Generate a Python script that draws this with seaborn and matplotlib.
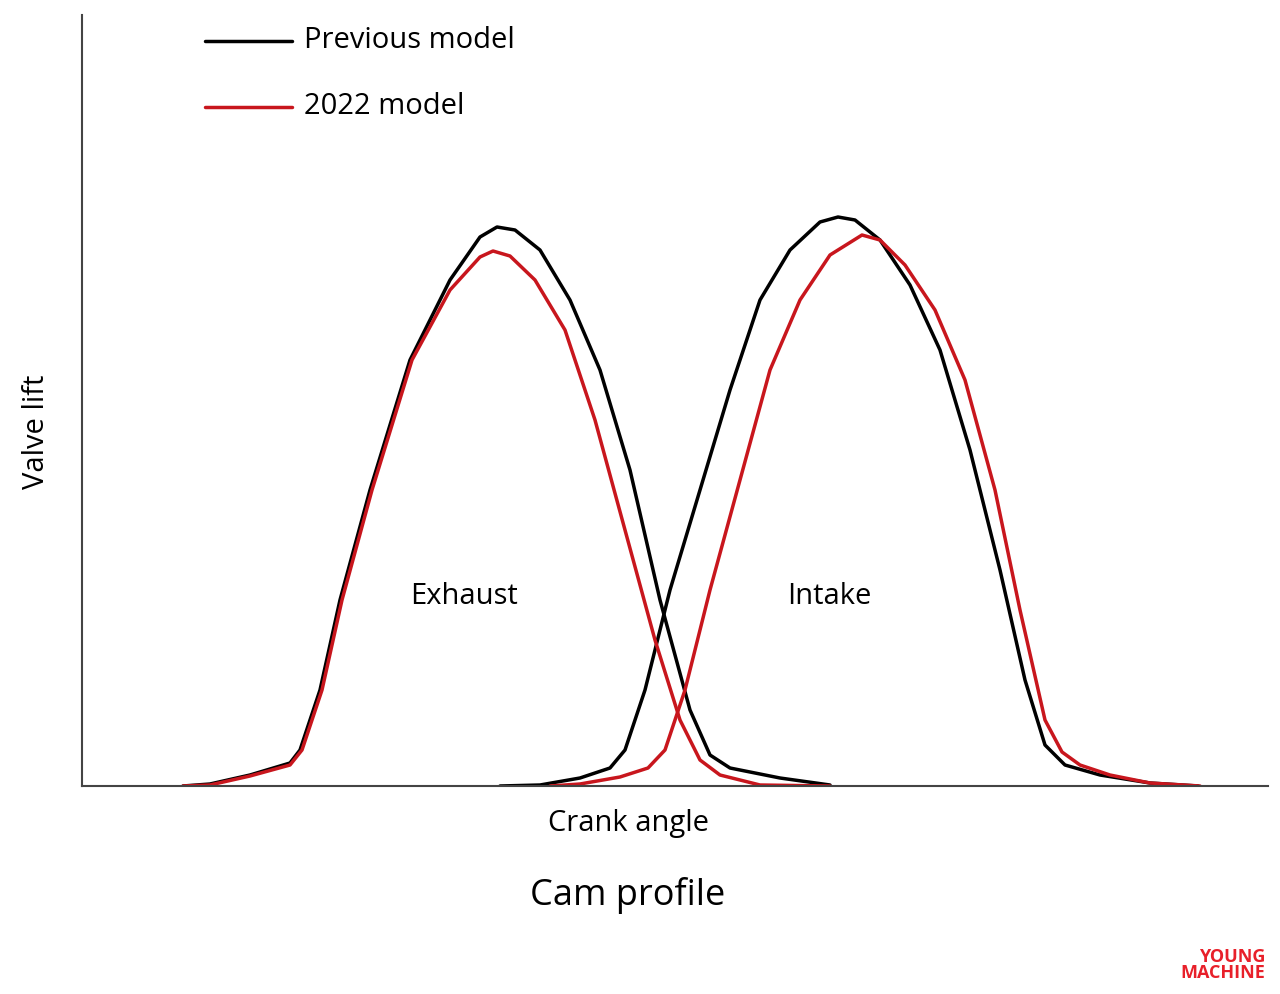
import matplotlib
matplotlib.use("Agg")
import matplotlib.pyplot as plt
import seaborn as sns
import pandas as pd

ex_prev_x = [183,210,250,290,300,320,340,370,410,450,480,497,515,540,570,600,630,660,690,710,730,780,830]
ex_prev_y = [786,784,775,763,750,690,600,490,360,280,237,227,230,250,300,370,470,600,710,755,768,778,785]
ex_new_x = [183,210,250,290,302,322,342,372,412,450,480,493,510,535,565,595,625,655,680,700,720,760,830]
ex_new_y = [786,785,776,765,750,690,600,490,360,290,257,251,256,280,330,420,530,640,720,760,775,785,786]
in_prev_x = [500,540,580,610,625,645,670,700,730,760,790,820,838,855,880,910,940,970,1000,1025,1045,1065,1100,1150,1198]
in_prev_y = [786,785,778,768,750,690,590,490,390,300,250,222,217,220,240,285,350,450,570,680,745,765,775,783,786]
in_new_x = [550,580,620,648,665,685,710,740,770,800,830,862,880,905,935,965,995,1020,1045,1062,1080,1110,1150,1200]
in_new_y = [786,784,777,768,750,690,590,480,370,300,255,235,240,265,310,380,490,610,720,752,765,775,783,786]

def df(xs, ys, model, valve):
    return pd.DataFrame({"angle": xs, "lift": [786 - y for y in ys], "model": model, "valve": valve})

data = pd.concat([df(ex_prev_x, ex_prev_y, "Previous model", "Exhaust"),
                  df(ex_new_x, ex_new_y, "2022 model", "Exhaust"),
                  df(in_prev_x, in_prev_y, "Previous model", "Intake"),
                  df(in_new_x, in_new_y, "2022 model", "Intake")])

sns.set_theme(style="white")
plt.rcParams['font.family'] = ['Open Sans', 'DejaVu Sans']
fig = plt.figure(figsize=(12.8, 9.94), dpi=100)
ax = fig.add_axes([82/1280, 1-786/994, (1268-82)/1280, (786-15)/994])
pal = {"Previous model": "#000000", "2022 model": "#c8161d"}
sns.lineplot(data=data, x="angle", y="lift", hue="model", units="valve", estimator=None,
             palette=pal, linewidth=2.5, sort=False, ax=ax, legend=False)
ax.set_xlim(82, 1268); ax.set_ylim(0, 771)
ax.set_xticks([]); ax.set_yticks([])
ax.set_xlabel(""); ax.set_ylabel("")
for s in ["top", "right"]:
    ax.spines[s].set_visible(False)
for s in ["left", "bottom"]:
    ax.spines[s].set_color("#444444"); ax.spines[s].set_linewidth(1.5)

def T(x, y, s, **kw):
    kw.setdefault("color", "black")
    fig.text(x/1280, 1-y/994, s, **kw)

for yy, lab, c in [(41, "Previous model", "#000000"), (107, "2022 model", "#c8161d")]:
    fig.add_artist(plt.Line2D([205/1280, 292/1280], [1-yy/994]*2, color=c, lw=2.5))
    T(304, yy, lab, fontsize=21, va="center", ha="left")
T(464, 596, "Exhaust", fontsize=21, ha="center", va="center")
T(829, 596, "Intake", fontsize=21, ha="center", va="center")
T(628, 823, "Crank angle", fontsize=21, ha="center", va="center")
T(628, 896, "Cam profile", fontsize=26, ha="center", va="center")
T(36, 432, "Valve lift", fontsize=21, ha="center", va="center", rotation=90)
T(1265, 965, "YOUNG\nMACHINE", fontsize=13, ha="right", va="center", color="#e8202a",
  fontweight="bold", linespacing=0.8)
fig.savefig("out.png", dpi=100)
